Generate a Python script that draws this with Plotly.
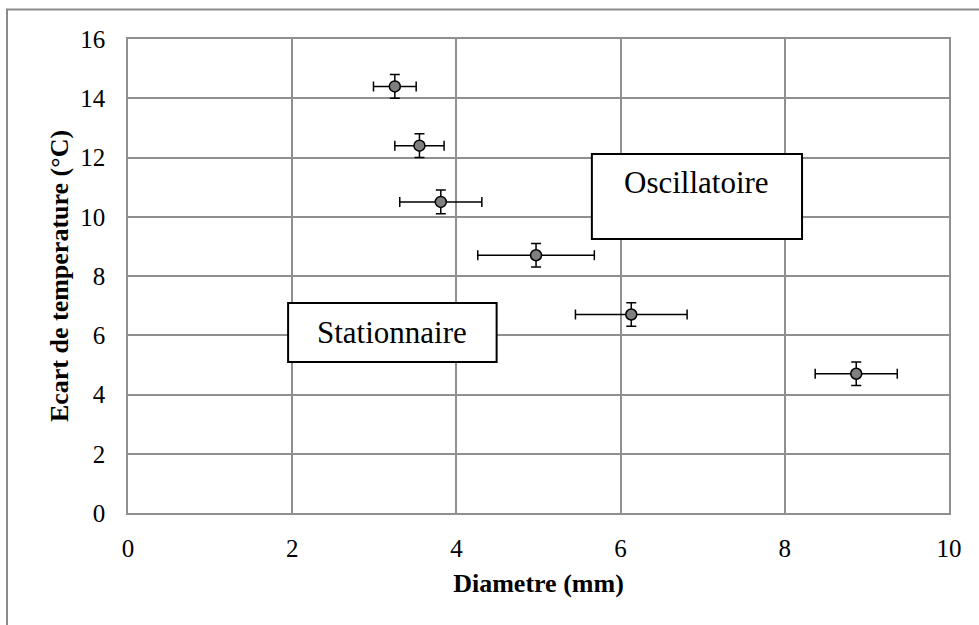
import plotly.graph_objects as go

# Measurements: diameter (mm) vs temperature gap (°C) with uncertainties
diametre = [3.25, 3.55, 3.81, 4.97, 6.13, 8.87]
ecart = [14.4, 12.4, 10.5, 8.7, 6.7, 4.7]
err_diametre = [0.26, 0.3, 0.5, 0.71, 0.68, 0.5]
err_ecart = [0.4, 0.4, 0.4, 0.4, 0.4, 0.4]

x_ticks = [0, 2, 4, 6, 8, 10]
y_ticks = [0, 2, 4, 6, 8, 10, 12, 14, 16]

serif = "Liberation Serif, Times New Roman, serif"
grid = "#8f8f8f"

fig = go.Figure()
fig.add_trace(go.Scatter(
    x=diametre, y=ecart, mode="markers",
    marker=dict(size=11, color="#7f7f7f", line=dict(color="black", width=1.5)),
    error_x=dict(type="data", array=err_diametre, color="black", thickness=1.5, width=5),
    error_y=dict(type="data", array=err_ecart, color="black", thickness=1.5, width=5),
    showlegend=False,
))

# Regime labels in framed boxes
regions = [
    dict(text="Oscillatoire", x0=5.65, x1=8.21, y0=9.25, y1=12.12, tx=6.93, ty=11.14),
    dict(text="Stationnaire", x0=1.95, x1=4.49, y0=5.10, y1=7.09, tx=3.22, ty=6.08),
]
for r in regions:
    fig.add_shape(type="rect", xref="x", yref="y", x0=r["x0"], x1=r["x1"], y0=r["y0"], y1=r["y1"],
                  line=dict(color="black", width=2), fillcolor="white", layer="above")
    fig.add_annotation(x=r["tx"], y=r["ty"], xref="x", yref="y", text=r["text"], showarrow=False,
                       font=dict(family=serif, size=31, color="black"))

# Outer chart frame
fig.add_shape(type="rect", xref="paper", yref="paper", x0=-0.1474, x1=1.05, y0=-0.26, y1=1.0622,
              line=dict(color="#8a8a8a", width=2), fillcolor="rgba(0,0,0,0)", layer="below")

fig.update_layout(
    width=979, height=625,
    margin=dict(l=128, r=30, t=39, b=112),
    paper_bgcolor="white", plot_bgcolor="white",
    font=dict(family=serif, color="black"),
    xaxis=dict(
        range=[0, 10], tickvals=x_ticks, ticktext=[str(v) for v in x_ticks],
        showgrid=True, gridcolor=grid, gridwidth=1.5, zeroline=False,
        showline=True, linecolor=grid, linewidth=1.5, mirror=True,
        ticks="", ticklabelstandoff=12, tickfont=dict(size=25, family=serif),
        title=dict(text="<b>Diametre (mm)</b>", font=dict(size=26, family=serif), standoff=13),
    ),
    yaxis=dict(
        range=[0, 16], tickvals=y_ticks, ticktext=[str(v) for v in y_ticks],
        showgrid=True, gridcolor=grid, gridwidth=1.5, zeroline=False,
        showline=True, linecolor=grid, linewidth=1.5, mirror=True,
        ticks="", ticklabelstandoff=16, tickfont=dict(size=25, family=serif),
        title=dict(text="<b>Ecart de temperature (°C)</b>", font=dict(size=26, family=serif), standoff=4),
    ),
)

fig.write_html("out.html")
